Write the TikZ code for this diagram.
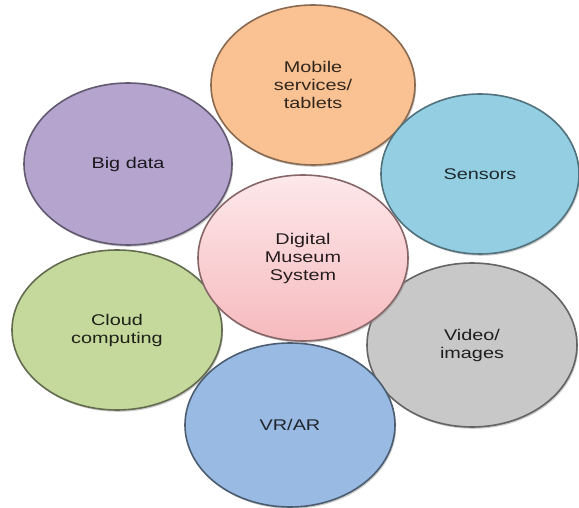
\documentclass[tikz,border=0pt]{standalone}
\usepackage{fontspec}
\setmainfont{Liberation Sans}[FakeStretch=1.28]
\usetikzlibrary{shapes.geometric,shadows}
\definecolor{orangeF}{RGB}{250,193,146}
\definecolor{purpleF}{RGB}{180,164,206}
\definecolor{sensorF}{RGB}{148,206,226}
\definecolor{greenF}{RGB}{198,217,157}
\definecolor{grayF}{RGB}{200,200,200}
\definecolor{vrF}{RGB}{153,186,226}
\definecolor{pinkTop}{RGB}{253,232,234}
\definecolor{pinkBot}{RGB}{246,186,190}
\tikzset{
  bubble/.style={ellipse, minimum width=208pt, minimum height=162pt, inner sep=0pt,
    align=center, line width=1.6pt,
    font=\fontsize{15.5}{18}\selectfont,
    drop shadow={shadow xshift=1.2pt, shadow yshift=-1.8pt, opacity=0.4}},
}
\begin{document}
\begin{tikzpicture}[x=1pt,y=-1pt]
\useasboundingbox[fill=white] (0,0) rectangle (579,508);
\node[bubble, fill=purpleF, draw=purpleF!55!black, text=purpleF!15!black] (big) at (128,164) {Big data};
\node[bubble, fill=orangeF, draw=orangeF!55!black, text=orangeF!20!black, minimum width=204pt, minimum height=160pt] (mob) at (313,85) {Mobile\\services/\\tablets};
\node[bubble, fill=sensorF, draw=sensorF!55!black, text=sensorF!20!black, minimum width=198pt, minimum height=160pt] (sen) at (480,174) {Sensors};
\node[bubble, fill=grayF, draw=grayF!50!black, text=grayF!15!black, minimum width=210pt, minimum height=164pt] (vid) at (472,345) {Video/\\images};
\node[bubble, fill=greenF, draw=greenF!50!black, text=greenF!15!black, minimum width=210pt, minimum height=160pt] (cloud) at (117,330) {Cloud\\computing};
\node[bubble, fill=vrF, draw=vrF!50!black, text=vrF!20!black, minimum width=210pt, minimum height=164pt] (vr) at (290,425) {VR/AR};
\node[bubble, top color=pinkTop, bottom color=pinkBot, draw=pinkBot!55!black, text=pinkBot!15!black, minimum width=210pt, minimum height=166pt] (dms) at (303,258) {Digital\\Museum\\System};
\end{tikzpicture}
\end{document}
